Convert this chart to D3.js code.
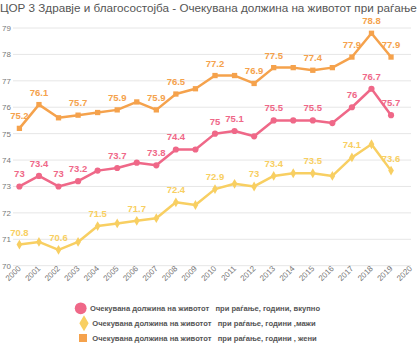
<!DOCTYPE html>
<html><head><meta charset="utf-8">
<script src="https://cdn.jsdelivr.net/npm/d3@7"></script>
<style>
body{margin:0;background:#fff;}
svg{display:block;font-family:"Liberation Sans",Arial,sans-serif;}
</style></head>
<body>
<svg id="c" width="420" height="350"></svg>
<script>
const title = "ЦОР 3 Здравје и благосостојба - Очекувана должина на животот при раѓање";
const years = d3.range(2000, 2021).map(String);
const yTicks = [70,71,72,73,74,75,76,77,78,79];
const totalVals = [73,73.4,73,73.2,73.6,73.7,73.9,73.8,74.4,74.4,75,75.1,74.9,75.5,75.5,75.5,75.4,76,76.7,75.7];
const menVals   = [70.8,70.9,70.6,70.9,71.5,71.6,71.7,71.8,72.4,72.3,72.9,73.1,73,73.4,73.5,73.5,73.4,74.1,74.6,73.6];
const womenVals = [75.2,76.1,75.6,75.7,75.8,75.9,76.2,75.9,76.5,76.7,77.2,77.2,76.9,77.5,77.5,77.4,77.5,77.9,78.8,77.9];
const totalLabeled = ["2000","2001","2002","2003","2005","2007","2008","2010","2011","2013","2015","2017","2018","2019"];
const menLabeled   = ["2000","2002","2004","2006","2008","2010","2012","2013","2015","2017","2019"];
const womenLabeled = ["2000","2001","2003","2005","2007","2008","2010","2012","2013","2015","2017","2018","2019"];
const seriesNames = [
  "Очекувана должина на животот   при раѓање, години, вкупно",
  "Очекувана должина на животот   при раѓање, години ,мажи",
  "Очекувана должина на животот   при раѓање, години , жени"
];
const colors = ["#ef6888","#f8cf62","#f5a24c"];

const series = [
  {name: seriesNames[0], vals: totalVals, labeled: totalLabeled, color: colors[0], sym: d3.symbolCircle, size: 30},
  {name: seriesNames[1], vals: menVals, labeled: menLabeled, color: colors[1], sym: d3.symbolDiamond, size: 28},
  {name: seriesNames[2], vals: womenVals, labeled: womenLabeled, color: colors[2], sym: d3.symbolSquare, size: 28}
];

const svg = d3.select("#c");
const x = d3.scalePoint().domain(years).range([19.4, 410.6]);
const y = d3.scaleLinear().domain([70, 79]).range([265.7, 28]);

svg.append("text").attr("x", 0).attr("y", 12).attr("fill", "#555")
  .style("font-size", "11.7px").text(title);

// grid
svg.append("g").selectAll("line").data(yTicks).join("line")
  .attr("x1", 13).attr("x2", 411)
  .attr("y1", d => y(d)).attr("y2", d => y(d))
  .attr("stroke", "#e6e6e6").attr("stroke-width", 1);
svg.append("g").selectAll("text").data(yTicks).join("text")
  .attr("x", 11).attr("y", d => y(d) + 3)
  .attr("text-anchor", "end").attr("fill", "#777")
  .style("font-size", "8px").text(d => d);

// x labels
svg.append("g").selectAll("text").data(years).join("text")
  .attr("transform", d => `translate(${x(d) + 2},${269}) rotate(-45)`)
  .attr("text-anchor", "end").attr("fill", "#777")
  .style("font-size", "8px").text(d => d);

const line = d3.line().x((d, i) => x(years[i])).y(d => y(d));
series.forEach(s => {
  const g = svg.append("g");
  g.append("path").datum(s.vals).attr("d", line)
    .attr("fill", "none").attr("stroke", s.color).attr("stroke-width", 2.5)
    .attr("stroke-linejoin", "round");
  g.selectAll("path.m").data(s.vals).join("path").attr("class", "m")
    .attr("transform", (d, i) => `translate(${x(years[i])},${y(d)})`)
    .attr("d", d3.symbol().type(s.sym).size(s.size))
    .attr("fill", s.color);
  const lab = s.vals.map((v, i) => ({v, yr: years[i]})).filter(d => s.labeled.includes(d.yr));
  g.selectAll("text").data(lab).join("text")
    .attr("x", d => x(d.yr)).attr("y", d => y(d.v) - 9)
    .attr("text-anchor", "middle").attr("fill", s.color)
    .style("font-size", "9.5px").style("font-weight", "bold")
    .text(d => d.v);
});

// legend
const leg = svg.append("g");
const legY = [308.3, 323.3, 338];
const legSym = [
  {t: d3.symbolCircle, s: 110, x: 80.7},
  {t: d3.symbolDiamond, s: 75, x: 84},
  {t: d3.symbolSquare, s: 64, x: 83}
];
const legTx = [90, 92.3, 92.3];
series.forEach((s, i) => {
  leg.append("path").attr("transform", `translate(${legSym[i].x},${legY[i]})`)
    .attr("d", d3.symbol().type(legSym[i].t).size(legSym[i].s)).attr("fill", s.color);
  leg.append("text").attr("x", legTx[i]).attr("y", legY[i] + 3)
    .attr("fill", "#555").style("font-size", "7.6px").style("font-weight", "bold")
    .style("white-space", "pre").text(s.name);
});
</script>
</body></html>
